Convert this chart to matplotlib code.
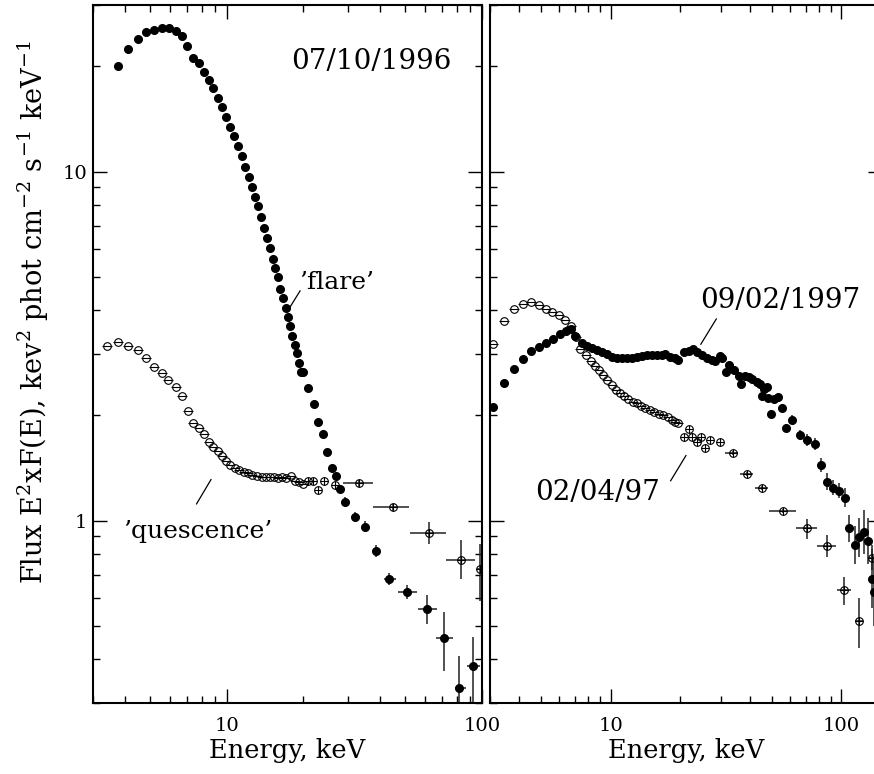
import matplotlib
matplotlib.use('Agg')

import matplotlib.pyplot as plt
from matplotlib.ticker import LogLocator, NullFormatter, FuncFormatter

plt.rcParams['font.family'] = ['DejaVu Serif']
plt.rcParams['mathtext.fontset'] = 'dejavuserif'

# ---------- 07/10/1996, 'flare' (filled) ----------
flare_e = [3.77, 4.13, 4.50, 4.85, 5.22, 5.58, 5.96, 6.33, 6.68, 7.03, 7.40, 7.77, 8.15, 8.50,
           8.87, 9.25, 9.62, 9.95, 10.34, 10.69, 11.11, 11.45, 11.80, 12.20, 12.58, 12.93, 13.31,
           13.68, 14.05, 14.44, 14.79, 15.15, 15.52, 15.91, 16.24, 16.64, 17.10, 17.41, 17.78,
           18.10, 18.54, 18.88, 19.28, 19.63, 20.0, 20.9, 21.9, 22.8, 23.8, 24.8, 25.8, 26.7, 27.7]
flare_f = [20.0, 22.4, 24.0, 25.1, 25.5, 25.8, 25.8, 25.3, 24.4, 22.9, 21.2, 20.4, 19.3, 18.3,
           17.3, 16.2, 15.3, 14.3, 13.4, 12.6, 11.8, 11.1, 10.3, 9.62, 9.05, 8.48, 7.95,
           7.43, 6.91, 6.44, 6.02, 5.63, 5.28, 4.97, 4.62, 4.34, 4.06, 3.83, 3.60,
           3.38, 3.18, 3.02, 2.82, 2.67, 2.67, 2.39, 2.16, 1.92, 1.77, 1.575, 1.418, 1.345, 1.232]
flare_tail_e = [29.2, 31.9, 34.9, 38.3, 43.3, 51.0, 61.1, 71.2, 81.5, 92.5]
flare_tail_elo = [28.6, 30.6, 34.1, 37.0, 41.5, 46.7, 56.0, 66.2, 78.6, 87.6]
flare_tail_ehi = [29.8, 33.3, 35.7, 39.6, 46.1, 55.9, 66.7, 76.9, 86.9, 97.9]
flare_tail_f = [1.133, 1.023, 0.961, 0.817, 0.681, 0.624, 0.559, 0.461, 0.332, 0.382]
flare_tail_flo = [1.10, 0.99, 0.93, 0.785, 0.654, 0.596, 0.506, 0.371, 0.25, 0.25]
flare_tail_fhi = [1.165, 1.06, 0.995, 0.85, 0.709, 0.653, 0.610, 0.548, 0.41, 0.465]

# ---------- 07/10/1996, 'quescence' (open) ----------
quies_e = [3.41, 3.77, 4.13, 4.50, 4.85, 5.22, 5.58, 5.92, 6.33, 6.72, 7.06, 7.40, 7.77, 8.15,
           8.50, 8.87, 9.25, 9.62, 9.95, 10.34, 10.79, 11.21, 11.66, 12.16, 12.61, 13.16, 13.72,
           14.27, 14.84, 15.38, 15.85, 16.43, 17.10, 17.88, 18.59, 19.28, 19.86, 20.78, 21.74,
           22.75, 24.16, 26.6]
quies_f = [3.17, 3.24, 3.17, 3.08, 2.92, 2.75, 2.64, 2.53, 2.41, 2.27, 2.06, 1.90, 1.84, 1.77,
           1.68, 1.62, 1.58, 1.535, 1.48, 1.443, 1.413, 1.399, 1.381, 1.366, 1.354, 1.342, 1.336,
           1.331, 1.331, 1.336, 1.322, 1.331, 1.325, 1.345, 1.302, 1.293, 1.274, 1.302, 1.296,
           1.222, 1.302, 1.265]
quies_tail_e = [32.9, 44.8, 61.9, 83.0, 98.0]
quies_tail_elo = [28.5, 37.6, 52.1, 72.4, 95.5]
quies_tail_ehi = [37.4, 51.6, 72.4, 93.6, 100.5]
quies_tail_f = [1.28, 1.092, 0.922, 0.772, 0.724]
quies_tail_flo = [1.25, 1.066, 0.858, 0.681, 0.589]
quies_tail_fhi = [1.31, 1.118, 0.991, 0.877, 0.858]

# ---------- 09/02/1997 (filled) ----------
obs97a_e = [3.09, 3.45, 3.81, 4.17, 4.50, 4.88, 5.23, 5.62, 6.02, 6.39, 6.72, 7.04, 7.48, 7.87,
            8.27, 8.69, 9.14, 9.61, 10.10, 10.62, 11.16, 11.74, 12.34, 12.97, 13.64, 14.34, 15.08,
            15.85, 16.66, 17.22, 18.1, 19.04, 19.67, 20.7, 21.75, 22.7, 23.65, 24.9, 26.15, 27.5,
            28.4, 29.7, 30.4, 31.6, 32.5, 34.1, 35.9, 36.7, 38.4, 39.7, 41.0, 43.1, 44.6, 45.4,
            46.1, 47.7, 48.0]
obs97a_f = [2.12, 2.47, 2.72, 2.90, 3.05, 3.15, 3.22, 3.32, 3.42, 3.50, 3.54, 3.38, 3.22, 3.17,
            3.12, 3.08, 3.04, 3.00, 2.95, 2.92, 2.92, 2.92, 2.93, 2.95, 2.97, 2.98, 2.98,
            2.99, 2.99, 3.00, 2.95, 2.92, 2.89, 3.03, 3.06, 3.10, 3.04, 2.98, 2.93, 2.89,
            2.87, 2.97, 2.93, 2.66, 2.79, 2.70, 2.60, 2.46, 2.60, 2.57, 2.54, 2.50, 2.46, 2.28,
            2.38, 2.42, 2.25]
obs97a_tail_e = [49.3, 50.9, 53.0, 55.4, 57.8, 61.2, 66.1, 71.1, 76.6, 81.8, 86.9, 91.9, 97.3,
                 103.3, 108.3, 114.2, 119.7, 125.4, 130.5, 135.8, 138.6]
obs97a_tail_f = [2.02, 2.23, 2.26, 2.10, 1.84, 1.945, 1.76, 1.705, 1.654, 1.443, 1.293, 1.24, 1.218,
                 1.159, 0.953, 0.852, 0.894, 0.927, 0.875, 0.681, 0.626]
obs97a_tail_flo = [1.97, 2.18, 2.21, 2.05, 1.79, 1.89, 1.70, 1.64, 1.59, 1.38, 1.22, 1.18, 1.16,
                   1.09, 0.87, 0.75, 0.785, 0.80, 0.75, 0.56, 0.50]
obs97a_tail_fhi = [2.07, 2.28, 2.31, 2.15, 1.89, 2.00, 1.82, 1.77, 1.72, 1.51, 1.37, 1.31, 1.28,
                   1.24, 1.04, 0.965, 1.02, 1.07, 1.02, 0.83, 0.79]

# ---------- 02/04/97 (open) ----------
obs97b_e = [3.09, 3.45, 3.81, 4.17, 4.50, 4.88, 5.23, 5.59, 5.96, 6.33, 6.72, 7.06, 7.35, 7.81,
            8.18, 8.55, 8.92, 9.29, 9.66, 10.10, 10.55, 10.97, 11.42, 11.93, 12.46, 12.97, 13.55,
            14.14, 14.82, 15.48, 16.17, 16.93, 17.69, 18.42, 19.04, 19.67, 20.7, 21.75, 22.5,
            23.65, 24.6, 25.7, 27.0, 29.7]
obs97b_f = [3.20, 3.72, 4.05, 4.17, 4.23, 4.14, 4.03, 3.95, 3.88, 3.75, 3.61, 3.35, 3.11, 2.98,
            2.87, 2.78, 2.70, 2.62, 2.53, 2.44, 2.37, 2.32, 2.28, 2.23, 2.19, 2.17, 2.13,
            2.10, 2.07, 2.04, 2.02, 2.00, 1.98, 1.945, 1.92, 1.90, 1.74, 1.83, 1.73,
            1.676, 1.73, 1.615, 1.705, 1.676]
obs97b_tail_e = [33.8, 39.0, 45.4, 55.96, 71.1, 86.9, 102.6, 119.3, 136.4]
obs97b_tail_elo = [31.4, 36.5, 42.4, 48.4, 63.9, 78.6, 95.4, 114.7, 131.0]
obs97b_tail_ehi = [35.8, 41.6, 48.3, 63.3, 78.6, 94.5, 110.5, 124.3, 142.0]
obs97b_tail_f = [1.562, 1.36, 1.238, 1.064, 0.951, 0.848, 0.632, 0.515, 0.782]
obs97b_tail_flo = [1.54, 1.34, 1.22, 1.05, 0.886, 0.786, 0.571, 0.430, 0.72]
obs97b_tail_fhi = [1.585, 1.38, 1.255, 1.08, 1.011, 0.906, 0.689, 0.601, 0.85]

MS = 5.5
ERR_KW = dict(fmt='none', ecolor='#222222', elinewidth=1.1, capsize=0, zorder=2)


def filled(ax, e, f):
    ax.plot(e, f, ls='none', marker='o', ms=MS, color='k', mec='k', zorder=3)


def hollow(ax, e, f):
    ax.plot(e, f, ls='none', marker='o', ms=MS, mfc='none', mec='k', mew=0.8, zorder=3)
    # soft channels look like a circle with a bar, hard ones like a circle with a cross
    soft = [(x, y) for x, y in zip(e, f) if x < 20]
    hard = [(x, y) for x, y in zip(e, f) if x >= 20]
    if soft:
        ax.plot(*zip(*soft), ls='none', marker='_', ms=MS + 1, mec='k', mew=0.8, zorder=3)
    if hard:
        ax.plot(*zip(*hard), ls='none', marker='+', ms=MS, mec='k', mew=0.8, zorder=3)


def err(ax, e, f, flo, fhi, elo=None, ehi=None):
    yerr = [[y - lo for y, lo in zip(f, flo)], [hi - y for y, hi in zip(f, fhi)]]
    xerr = None
    if elo is not None:
        xerr = [[x - lo for x, lo in zip(e, elo)], [hi - x for x, hi in zip(e, ehi)]]
    ax.errorbar(e, f, xerr=xerr, yerr=yerr, **ERR_KW)


fig = plt.figure(figsize=(8.74, 7.74), dpi=100)
W, H = 874.0, 774.0
ax1 = fig.add_axes([93 / W, 1 - 703 / H, 389 / W, 698 / H])
ax2 = fig.add_axes([490 / W, 1 - 703 / H, 392 / W, 698 / H])

fmt = FuncFormatter(lambda v, p: '%g' % v)
for ax, xmax in ((ax1, 100), (ax2, 150)):
    ax.set_xscale('log')
    ax.set_yscale('log')
    ax.set_xlim(3, xmax)
    ax.set_ylim(0.3, 30)
    ax.xaxis.set_major_locator(LogLocator(base=10, numticks=10))
    ax.xaxis.set_minor_locator(LogLocator(base=10, subs=range(2, 10), numticks=20))
    ax.yaxis.set_major_locator(LogLocator(base=10, numticks=10))
    ax.yaxis.set_minor_locator(LogLocator(base=10, subs=range(2, 10), numticks=20))
    ax.xaxis.set_major_formatter(fmt)
    ax.yaxis.set_major_formatter(fmt)
    ax.xaxis.set_minor_formatter(NullFormatter())
    ax.yaxis.set_minor_formatter(NullFormatter())
    ax.tick_params(which='both', direction='in', top=True, right=True, width=1.0,
                   labelsize=14, color='k')
    ax.tick_params(which='major', length=10)
    ax.tick_params(which='minor', length=5)
    ax.tick_params(axis='x', pad=10)
    ax.tick_params(axis='y', pad=4)
    for s in ax.spines.values():
        s.set_linewidth(1.5)
    ax.set_xlabel('Energy, keV', fontsize=18.5, labelpad=2)

ax2.tick_params(axis='y', labelleft=False)

# left panel
hollow(ax1, quies_e, quies_f)
err(ax1, quies_tail_e, quies_tail_f, quies_tail_flo, quies_tail_fhi, quies_tail_elo, quies_tail_ehi)
hollow(ax1, quies_tail_e, quies_tail_f)
filled(ax1, flare_e, flare_f)
err(ax1, flare_tail_e, flare_tail_f, flare_tail_flo, flare_tail_fhi, flare_tail_elo, flare_tail_ehi)
filled(ax1, flare_tail_e, flare_tail_f)

ax1.text(36.9, 20.7, '07/10/1996', fontsize=20, ha='center', va='center')
ax1.text(19.3, 4.82, '\u2019flare\u2019', fontsize=18, ha='left', va='center')
ax1.plot([19.4, 17.5], [4.55, 4.03], color='k', lw=0.9)
ax1.text(7.74, 0.928, '\u2019quescence\u2019', fontsize=18, ha='center', va='center')
ax1.plot([8.69, 7.63], [1.31, 1.116], color='k', lw=0.9)

# right panel
hollow(ax2, obs97b_e, obs97b_f)
err(ax2, obs97b_tail_e, obs97b_tail_f, obs97b_tail_flo, obs97b_tail_fhi, obs97b_tail_elo, obs97b_tail_ehi)
hollow(ax2, obs97b_tail_e, obs97b_tail_f)
filled(ax2, obs97a_e, obs97a_f)
err(ax2, obs97a_tail_e, obs97a_tail_f, obs97a_tail_flo, obs97a_tail_fhi)
filled(ax2, obs97a_tail_e, obs97a_tail_f)

ax2.text(54.5, 4.26, '09/02/1997', fontsize=20, ha='center', va='center')
ax2.plot([28.7, 24.6], [3.78, 3.20], color='k', lw=0.9)
ax2.text(8.81, 1.206, '02/04/97', fontsize=20, ha='center', va='center')
ax2.plot([21.2, 18.2], [1.535, 1.30], color='k', lw=0.9)

fig.text(33 / W, 1 - 312 / H,
         r'Flux E$^2$xF(E), kev$^2$ phot cm$^{-2}$ s$^{-1}$ keV$^{-1}$',
         rotation=90, fontsize=19.5, ha='center', va='center')

fig.savefig('out.png', dpi=100)
